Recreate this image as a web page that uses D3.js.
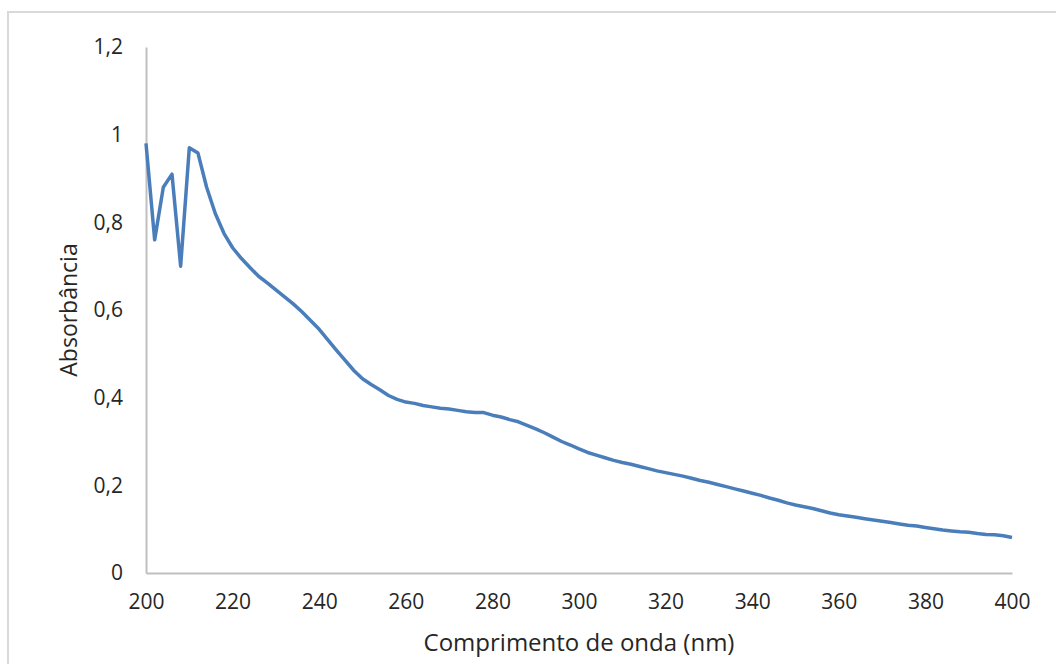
<!DOCTYPE html>
<html>
<head>
<meta charset="utf-8">
<script src="https://cdn.jsdelivr.net/npm/d3@7"></script>
<style>
  body { margin: 0; background: #fff; }
  text { font-family: "Open Sans", "Liberation Sans", sans-serif; fill: #262626; }
</style>
</head>
<body>
<div id="chart"></div>
<script>
// DATA
const wavelengths = [
  200, 202, 204, 206, 208, 210, 212, 214, 216, 218, 220, 222, 224, 226, 228, 230,
  232, 234, 236, 238, 240, 242, 244, 246, 248, 250, 252, 254, 256, 258, 260, 262,
  264, 266, 268, 270, 272, 274, 276, 278, 280, 282, 284, 286, 288, 290, 292, 294,
  296, 298, 300, 302, 304, 306, 308, 310, 312, 314, 316, 318, 320, 322, 324, 326,
  328, 330, 332, 334, 336, 338, 340, 342, 344, 346, 348, 350, 352, 354, 356, 358,
  360, 362, 364, 366, 368, 370, 372, 374, 376, 378, 380, 382, 384, 386, 388, 390,
  392, 394, 396, 398, 400
];
const absorbance = [
  0.98, 0.76, 0.88, 0.91, 0.70, 0.97, 0.958, 0.88, 0.82, 0.775, 0.742, 0.718, 0.697, 0.677, 0.662, 0.646,
  0.63, 0.614, 0.596, 0.576, 0.556, 0.532, 0.508, 0.485, 0.462, 0.443, 0.43, 0.418, 0.405, 0.396, 0.39, 0.387,
  0.382, 0.379, 0.376, 0.374, 0.371, 0.368, 0.366, 0.366, 0.36, 0.356, 0.35, 0.345, 0.337, 0.329, 0.32, 0.31,
  0.30, 0.292, 0.283, 0.275, 0.269, 0.263, 0.257, 0.252, 0.248, 0.243, 0.238, 0.233, 0.229, 0.225, 0.221, 0.216,
  0.211, 0.207, 0.202, 0.197, 0.192, 0.187, 0.182, 0.177, 0.171, 0.166, 0.16, 0.155, 0.151, 0.147, 0.142, 0.137,
  0.133, 0.13, 0.127, 0.124, 0.121, 0.118, 0.115, 0.112, 0.109, 0.107, 0.104, 0.101, 0.098, 0.096, 0.094, 0.093,
  0.09, 0.088, 0.087, 0.085, 0.081
];
const xTicks = [200, 220, 240, 260, 280, 300, 320, 340, 360, 380, 400];
const yTicks = [0, 0.2, 0.4, 0.6, 0.8, 1, 1.2];

const W = 1056, H = 664;
const MARGIN = { LEFT: 146, TOP: 47, RIGHT: 44, BOTTOM: 91 };
const WIDTH = W - MARGIN.LEFT - MARGIN.RIGHT;
const HEIGHT = H - MARGIN.TOP - MARGIN.BOTTOM;

const svg = d3.select("#chart")
  .append("svg")
  .attr("width", W)
  .attr("height", H);

// outer frame (only top and left edges are visible)
svg.append("path")
  .attr("d", `M8,${H} L8,12 L${W},12`)
  .attr("fill", "none")
  .attr("stroke", "#d9d9d9")
  .attr("stroke-width", 2);

const g = svg.append("g")
  .attr("transform", `translate(${MARGIN.LEFT}, ${MARGIN.TOP})`);

// SCALE
const x = d3.scaleLinear().domain([200, 400]).range([0, WIDTH]);
const y = d3.scaleLinear().domain([0, 1.2]).range([HEIGHT, 0]);

const fmt = (d) => String(d).replace(".", ",");

// AXIS
g.append("g")
  .attr("class", "xAxis")
  .attr("transform", `translate(0, ${HEIGHT})`)
  .call(d3.axisBottom(x).tickValues(xTicks).tickSize(0).tickPadding(21).tickFormat(fmt))
  .call((a) => {
    a.select(".domain").attr("stroke", "#bfbfbf").attr("stroke-width", 2);
    a.selectAll(".tick text").attr("font-size", "21px").attr("fill", "#262626")
      .attr("font-family", "'Open Sans', sans-serif");
  });

g.append("g")
  .attr("class", "yAxis")
  .call(d3.axisLeft(y).tickValues(yTicks).tickSize(0).tickPadding(23).tickFormat(fmt))
  .call((a) => {
    a.select(".domain").attr("stroke", "#bfbfbf").attr("stroke-width", 2);
    a.selectAll(".tick text").attr("font-size", "21px").attr("fill", "#262626")
      .attr("font-family", "'Open Sans', sans-serif");
  });

// LABEL
g.append("text")
  .attr("x", WIDTH / 2)
  .attr("y", HEIGHT + 78)
  .attr("text-anchor", "middle")
  .attr("font-size", "24px")
  .text("Comprimento de onda (nm)");

g.append("text")
  .attr("transform", "rotate(-90)")
  .attr("x", -HEIGHT / 2)
  .attr("y", -69)
  .attr("text-anchor", "middle")
  .attr("font-size", "23px")
  .text("Absorbância");

// LINE
const points = wavelengths.map((w, i) => ({ w: w, a: absorbance[i] }));
g.append("path")
  .datum(points)
  .attr("fill", "none")
  .attr("stroke", "#4a7ebb")
  .attr("stroke-width", 3.5)
  .attr("stroke-linejoin", "round")
  .attr("d", d3.line().x((d) => x(d.w)).y((d) => y(d.a)));
</script>
</body>
</html>
